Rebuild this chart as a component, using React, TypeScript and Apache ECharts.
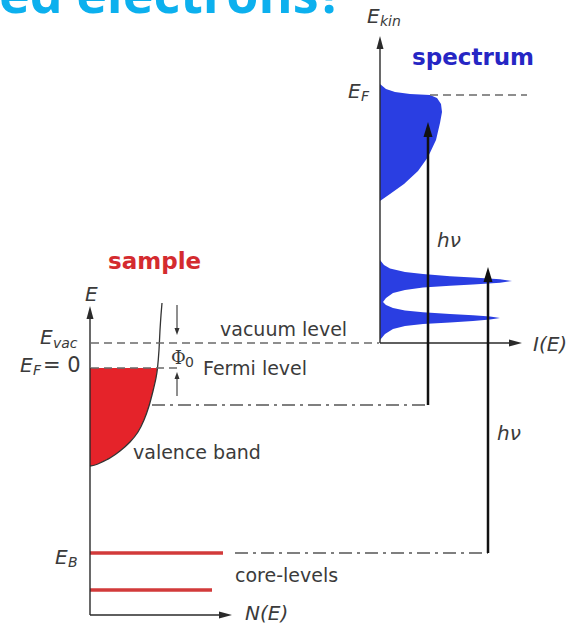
import React, { useEffect, useRef } from "react";
import * as echarts from "echarts";

const WIDTH = 571;
const HEIGHT = 629;

// ---------------- data (picture units, y grows downward) ----------------
// energy levels
const vacuumLevel = 343;
const fermiLevel = 368;
const deepValenceLevel = 405;
const coreLevelB = 553;
const coreLevel2 = 590;
const spectrumFermiLevel = 95;

// sample density of states (x = N(E), y = E)
const sampleDosCurve: number[][] = [
  [90, 466], [95, 465], [100, 463], [110, 458], [120, 451], [130, 442], [138, 432],
  [144, 420], [149, 406], [153, 391], [156, 378], [157.5, 368], [159, 350], [160, 330],
  [161, 315], [162, 303],
];
const occupiedValenceBand: number[][] = [
  [90, 368], [157.5, 368], [156, 378], [153, 391], [149, 406], [144, 420], [138, 432],
  [130, 442], [120, 451], [110, 458], [100, 463], [95, 465], [90, 466],
];

// photoemission spectrum (x = I(E), y = E_kin)
const spectrumValenceBand: number[][] = [
  [380, 84], [386, 89], [395, 92], [410, 94], [430, 95], [437, 98], [441, 104], [442, 112],
  [440, 123], [436, 140], [428, 157], [418, 171], [404, 184], [390, 194], [380, 201],
];
const spectrumCorePeaks: number[][] = [
  [380, 260], [384, 265], [390, 268.5], [405, 272], [423, 274], [450, 276.3], [473, 277.6], [500, 279.3], [512, 281],
  [500, 282.7], [473, 284.4], [450, 285.7], [423, 287.5], [405, 290], [393, 293], [386, 298], [383, 302],
  [386, 305], [393, 308], [405, 310.5], [423, 312.3], [450, 314], [473, 315.2], [490, 316.5], [500, 318],
  [490, 319.5], [473, 321], [450, 322.5], [423, 324], [405, 326], [393, 329], [385, 334], [380, 340],
];

// photon (hν) transitions: x position, start level, end level
const photonX = [428, 488];
const photonFrom = [deepValenceLevel, coreLevelB];
const photonTo = [122, 267];

// ---------------- layout ----------------
type Seg = { from: number[]; to: number[] };

const axisSegs: Seg[] = [
  { from: [90, 615], to: [90, 306] },
  { from: [90, 615], to: [232, 615] },
  { from: [380, vacuumLevel], to: [380, 36] },
  { from: [380, vacuumLevel], to: [522, vacuumLevel] },
];
const photonSegs: Seg[] = photonX.map((x, i) => ({ from: [x, photonFrom[i]], to: [x, photonTo[i]] }));
const phiSegs: Seg[] = [
  { from: [177, 305], to: [177, 335] },
  { from: [177, 396], to: [177, 372] },
];
const dashedSegs: Seg[] = [
  { from: [91, vacuumLevel], to: [379, vacuumLevel] },
  { from: [91, fermiLevel], to: [179, fermiLevel] },
  { from: [430, spectrumFermiLevel], to: [527, spectrumFermiLevel] },
];
const dashDotSegs: Seg[] = [
  { from: [152, deepValenceLevel], to: [428, deepValenceLevel] },
  { from: [235, coreLevelB], to: [488, coreLevelB] },
];
const coreSegs: Seg[] = [
  { from: [90, coreLevelB], to: [223, coreLevelB] },
  { from: [90, coreLevel2], to: [212, coreLevel2] },
];

const GRAY = "#3b3b3b";
const SANS = "DejaVu Sans";

type Lbl = [string, number, number, string];
const LABELS: Lbl[] = [
  ["E", 367, 16, "sym"], ["kin", 380, 21, "sub"],
  ["spectrum", 412, 57, "spectrum"],
  ["E", 348, 91, "sym"], ["F", 361, 96, "sub"],
  ["hν", 437, 240, "sym"],
  ["sample", 108, 261, "sample"],
  ["E", 85, 294, "sym"],
  ["E", 40, 337, "sym"], ["vac", 53, 343, "sub"],
  ["E", 20, 365, "sym"], ["F", 33, 370, "sub"], ["= 0", 43, 365, "upright"],
  ["vacuum level", 220, 329, "text"],
  ["Φ", 171, 357, "phi"], ["0", 185, 362, "phisub"],
  ["Fermi level", 203, 368, "text"],
  ["I(E)", 533, 344, "sym"],
  ["valence band", 133, 452, "text"],
  ["hν", 497, 433, "sym"],
  ["E", 55, 557, "sym"], ["B", 68, 562, "sub"],
  ["core-levels", 235, 575, "text"],
  ["N(E)", 245, 613, "sym"],
];

const STYLES: Record<string, any> = {
  sym: { fontFamily: SANS, fontSize: 20, fontStyle: "italic", fill: GRAY },
  sub: { fontFamily: SANS, fontSize: 14, fontStyle: "italic", fill: GRAY },
  upright: { fontFamily: SANS, fontSize: 21, fill: GRAY },
  text: { fontFamily: SANS, fontSize: 19, fill: GRAY },
  phi: { fontFamily: "DejaVu Serif", fontSize: 18, fill: GRAY },
  phisub: { fontFamily: SANS, fontSize: 14, fill: GRAY },
  sample: { fontFamily: SANS, fontSize: 23, fontWeight: "bold", fill: "#d42b2f" },
  spectrum: { fontFamily: SANS, fontSize: 23, fontWeight: "bold", fill: "#2626c4" },
};

function shapeSeries(points: number[][], style: any, closed: boolean) {
  return {
    type: "custom",
    coordinateSystem: "cartesian2d",
    silent: true,
    clip: false,
    data: [points[0]],
    renderItem: (_p: any, api: any) => ({
      type: closed ? "polygon" : "polyline",
      shape: { points: points.map((pt) => api.coord(pt)), smooth: closed ? 0 : 0.2 },
      style,
    }),
  };
}

function segSeries(segs: Seg[], color: string, width: number, dash?: number[], head?: number[]) {
  return {
    type: "custom",
    coordinateSystem: "cartesian2d",
    silent: true,
    clip: false,
    data: segs.map((s) => s.from),
    renderItem: (params: any, api: any) => {
      const s = segs[params.dataIndex];
      const a = api.coord(s.from);
      const b = api.coord(s.to);
      const children: any[] = [];
      let end = b;
      if (head) {
        const dx = b[0] - a[0];
        const dy = b[1] - a[1];
        const L = Math.hypot(dx, dy);
        const ux = dx / L;
        const uy = dy / L;
        const [hl, hw] = head;
        const bx = b[0] - ux * hl;
        const by = b[1] - uy * hl;
        children.push({
          type: "polygon",
          shape: {
            points: [
              [b[0], b[1]],
              [bx - (uy * hw) / 2, by + (ux * hw) / 2],
              [bx + (uy * hw) / 2, by - (ux * hw) / 2],
            ],
          },
          style: { fill: color },
        });
        end = [bx + ux * hl * 0.3, by + uy * hl * 0.3];
      }
      children.unshift({
        type: "line",
        shape: { x1: a[0], y1: a[1], x2: end[0], y2: end[1] },
        style: { stroke: color, lineWidth: width, lineDash: dash || null, fill: null },
      });
      return { type: "group", children };
    },
  };
}

export default function App() {
  const ref = useRef<HTMLDivElement>(null);
  useEffect(() => {
    document.body.style.margin = "0";
    const chart = echarts.init(ref.current!, undefined, { renderer: "svg" });
    const graphic: any[] = [
      {
        type: "text",
        x: -1,
        y: -8,
        silent: true,
        style: {
          text: "ed electrons?",
          fontFamily: "Open Sans",
          fontWeight: "bold",
          fontSize: 52,
          fill: "#0cb0ee",
          align: "left",
          verticalAlign: "middle",
        },
      },
      ...LABELS.map(([t, x, y, k]) => ({
        type: "text",
        x,
        y,
        silent: true,
        z: 20,
        style: { text: t, align: "left", verticalAlign: "middle", ...STYLES[k] },
      })),
    ];
    chart.setOption({
      animation: false,
      backgroundColor: "#ffffff",
      grid: { left: 0, right: 0, top: 0, bottom: 0 },
      xAxis: { type: "value", min: 0, max: WIDTH, show: false },
      yAxis: { type: "value", min: 0, max: HEIGHT, inverse: true, show: false },
      graphic,
      series: [
        shapeSeries(occupiedValenceBand, { fill: "#e5232a" }, true),
        shapeSeries(spectrumValenceBand, { fill: "#2a3ee2" }, true),
        shapeSeries(spectrumCorePeaks, { fill: "#2a3ee2" }, true),
        shapeSeries(sampleDosCurve, { fill: null, stroke: "#333", lineWidth: 1.3 }, false),
        segSeries(dashedSegs, "#6a6a6a", 1.6, [8, 5]),
        segSeries(dashDotSegs, "#555", 1.4, [13, 5, 3, 5]),
        segSeries(coreSegs, "#d23a3a", 3.5),
        segSeries(axisSegs, "#2a2a2a", 1.4, undefined, [13, 7]),
        segSeries(photonSegs, "#111", 2.5, undefined, [15, 9]),
        segSeries(phiSegs, "#333", 1.1, undefined, [7, 5]),
      ],
    });
    return () => chart.dispose();
  }, []);
  return <div ref={ref} style={{ width: WIDTH, height: HEIGHT, background: "#fff" }} />;
}
